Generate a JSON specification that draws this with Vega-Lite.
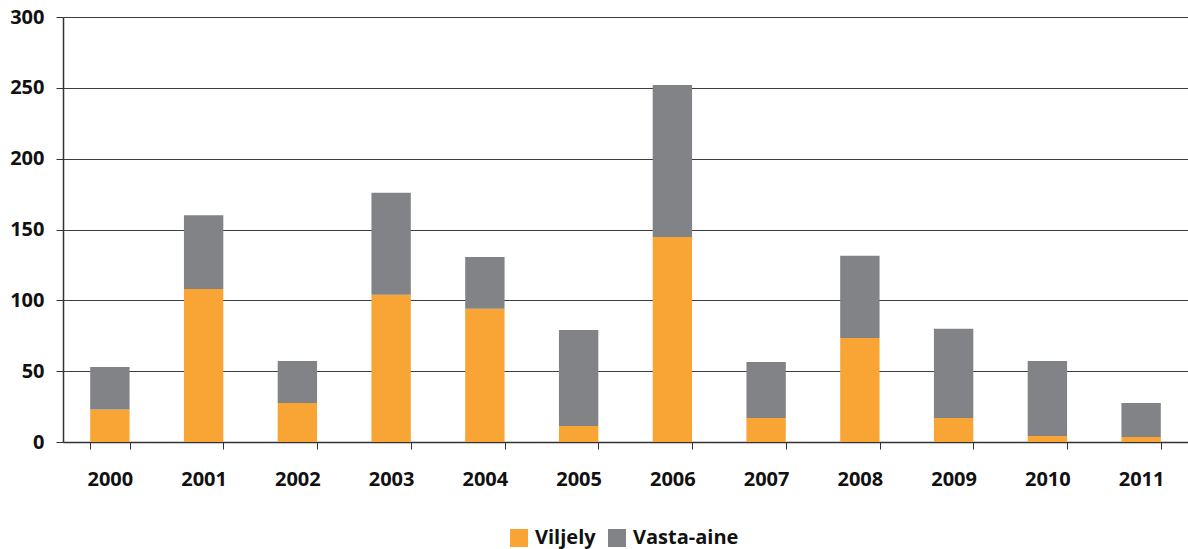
{
  "$schema": "https://vega.github.io/schema/vega-lite/v6.json",
  "width": 1125,
  "height": 425,
  "autosize": {"type": "none"},
  "padding": {"left": 63, "top": 17, "right": 0, "bottom": 107},
  "background": "white",
  "config": {
    "view": {"stroke": null},
    "font": "Open Sans",
    "axis": {
      "labelFont": "Open Sans",
      "labelFontWeight": "bold",
      "labelFontSize": 20,
      "labelColor": "#111111",
      "domainColor": "#333333",
      "tickColor": "#333333",
      "tickSize": 7,
      "titleFontSize": 0
    },
    "legend": {
      "labelFont": "Open Sans",
      "labelFontWeight": "bold",
      "labelFontSize": 20,
      "labelColor": "#111111"
    }
  },
  "data": {
    "values": [
      {"vuosi": "2000", "laji": "Viljely", "maara": 23},
      {"vuosi": "2000", "laji": "Vasta-aine", "maara": 30},
      {"vuosi": "2001", "laji": "Viljely", "maara": 108},
      {"vuosi": "2001", "laji": "Vasta-aine", "maara": 52},
      {"vuosi": "2002", "laji": "Viljely", "maara": 27.5},
      {"vuosi": "2002", "laji": "Vasta-aine", "maara": 29.7},
      {"vuosi": "2003", "laji": "Viljely", "maara": 104},
      {"vuosi": "2003", "laji": "Vasta-aine", "maara": 72},
      {"vuosi": "2004", "laji": "Viljely", "maara": 94},
      {"vuosi": "2004", "laji": "Vasta-aine", "maara": 36.6},
      {"vuosi": "2005", "laji": "Viljely", "maara": 11.3},
      {"vuosi": "2005", "laji": "Vasta-aine", "maara": 67.7},
      {"vuosi": "2006", "laji": "Viljely", "maara": 144.7},
      {"vuosi": "2006", "laji": "Vasta-aine", "maara": 107.3},
      {"vuosi": "2007", "laji": "Viljely", "maara": 17},
      {"vuosi": "2007", "laji": "Vasta-aine", "maara": 39.5},
      {"vuosi": "2008", "laji": "Viljely", "maara": 73.4},
      {"vuosi": "2008", "laji": "Vasta-aine", "maara": 58},
      {"vuosi": "2009", "laji": "Viljely", "maara": 17},
      {"vuosi": "2009", "laji": "Vasta-aine", "maara": 63},
      {"vuosi": "2010", "laji": "Viljely", "maara": 4.2},
      {"vuosi": "2010", "laji": "Vasta-aine", "maara": 53},
      {"vuosi": "2011", "laji": "Viljely", "maara": 3.5},
      {"vuosi": "2011", "laji": "Vasta-aine", "maara": 24}
    ]
  },
  "mark": {"type": "bar"},
  "encoding": {
    "x": {
      "field": "vuosi",
      "type": "ordinal",
      "scale": {"paddingInner": 0.58, "paddingOuter": 0.29},
      "axis": {
        "title": null,
        "labelAngle": 0,
        "tickBand": "extent",
        "labelPadding": 20,
        "domainWidth": 1.5
      }
    },
    "y": {
      "field": "maara",
      "type": "quantitative",
      "stack": "zero",
      "scale": {"domain": [0, 300], "nice": false},
      "axis": {
        "title": null,
        "values": [0, 50, 100, 150, 200, 250, 300],
        "grid": true,
        "gridColor": "#3d3d3d",
        "gridWidth": 1,
        "labelPadding": 12,
        "domainWidth": 1.5
      }
    },
    "color": {
      "field": "laji",
      "type": "nominal",
      "sort": ["Viljely", "Vasta-aine"],
      "scale": {"domain": ["Viljely", "Vasta-aine"], "range": ["#F8A535", "#828386"]},
      "legend": {
        "title": null,
        "orient": "none",
        "legendX": 446,
        "legendY": 511,
        "direction": "horizontal",
        "symbolType": "square",
        "symbolSize": 324,
        "symbolStrokeWidth": 0,
        "labelOffset": 6,
        "columnPadding": 11
      }
    },
    "order": {"field": "laji", "sort": "descending"}
  }
}
